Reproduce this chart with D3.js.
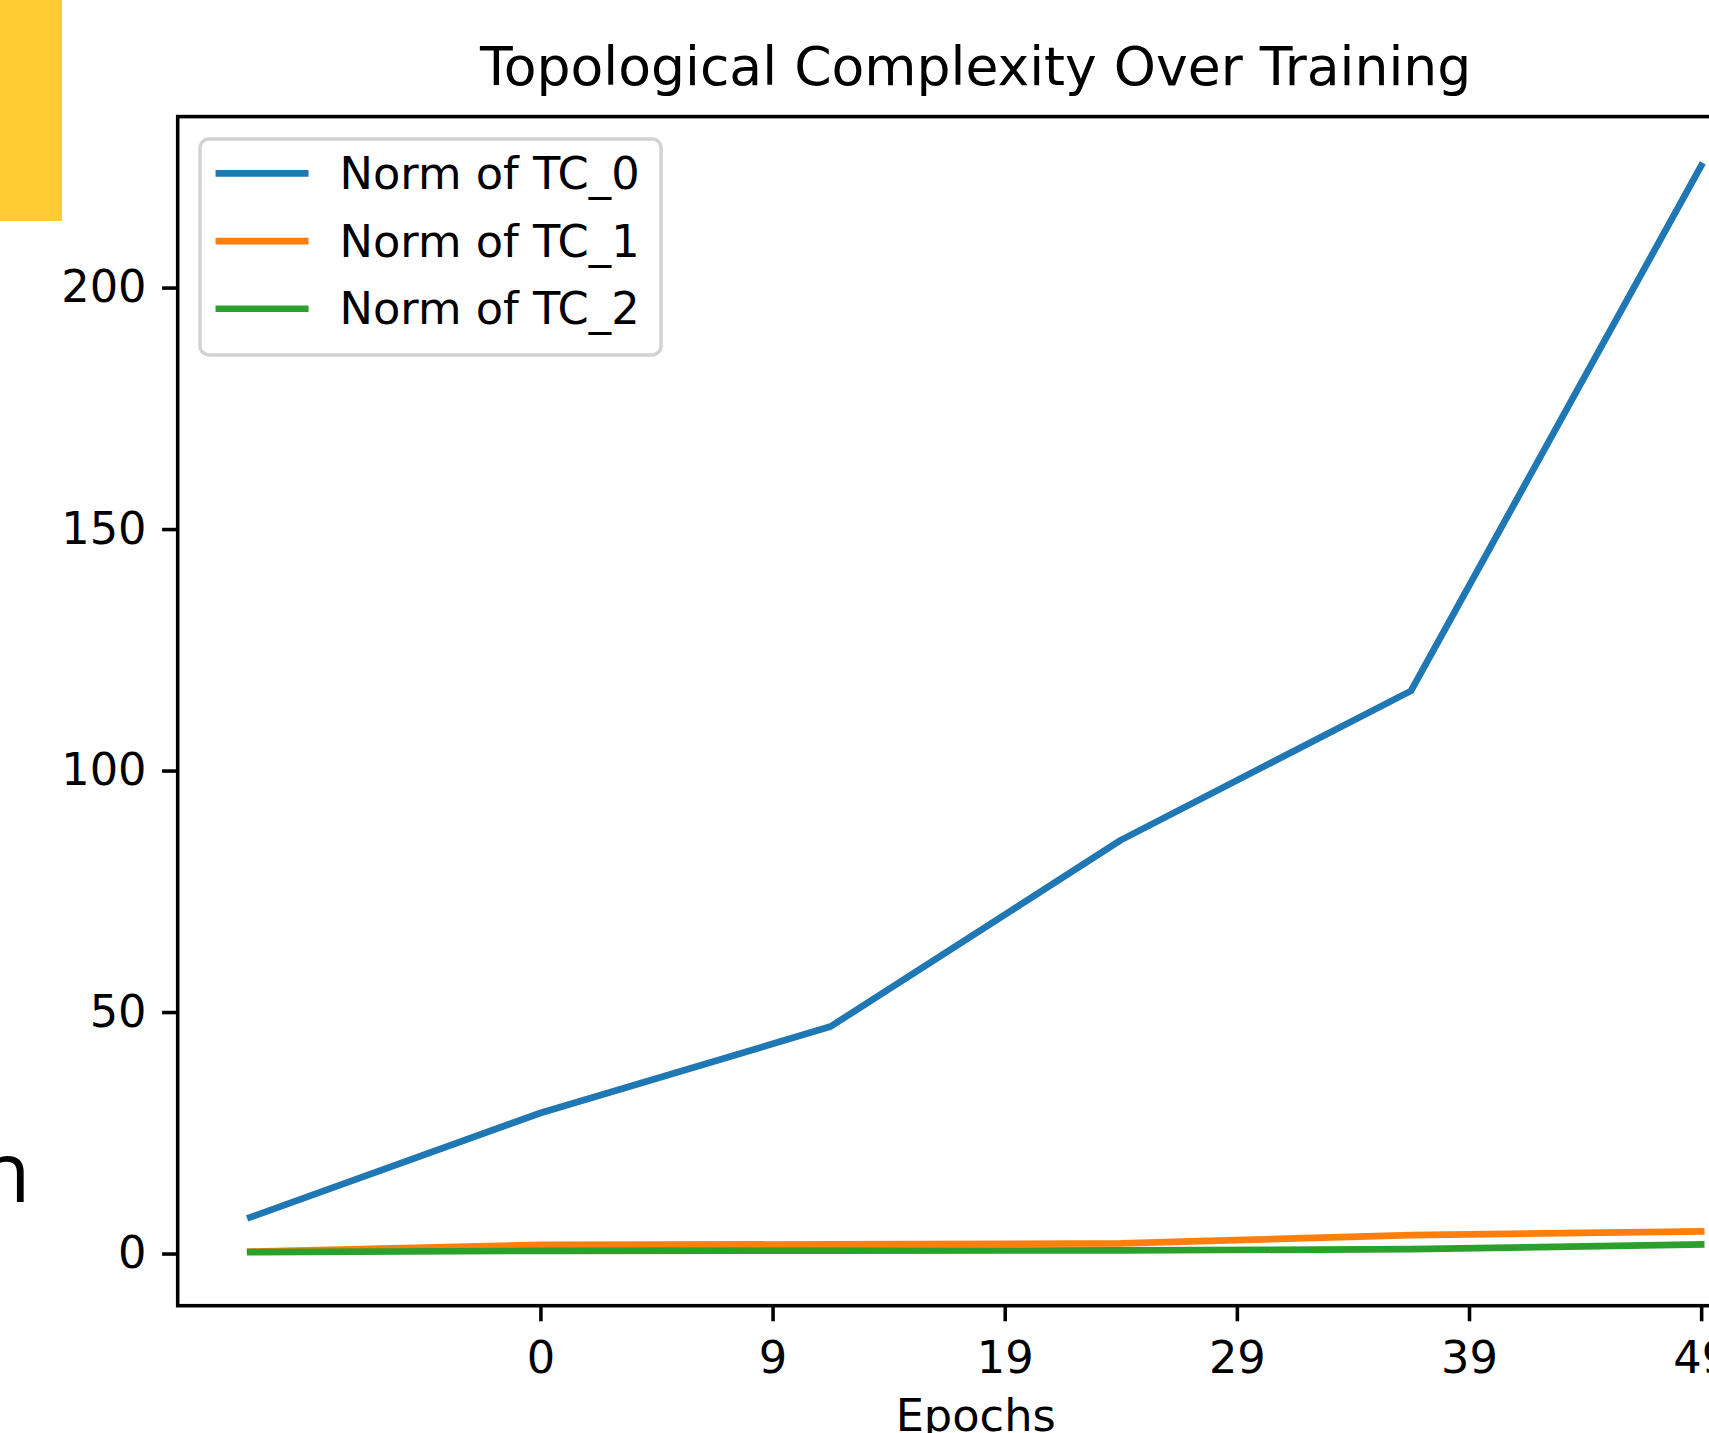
<!DOCTYPE html>
<html>
<head>
<meta charset="utf-8">
<script src="https://cdn.jsdelivr.net/npm/d3@7"></script>
<style>
  html, body { margin: 0; padding: 0; background: #fff; overflow: hidden; }
  svg { display: block; }
</style>
</head>
<body>
<svg width="1709" height="1433"></svg>
<script>
const epochIndex = [0, 1, 2, 3, 4, 5];
const tc0 = [7.5, 29.1, 47.0, 85.6, 116.5, 225.2];
const tc1 = [0.4, 1.8, 1.9, 2.1, 3.8, 4.6];
const tc2 = [0.3, 0.55, 0.6, 0.65, 0.9, 1.9];
const seriesNames = ["Norm of TC_0", "Norm of TC_1", "Norm of TC_2"];
const xTickPos = [1, 1.8, 2.6, 3.4, 4.2, 5];
const xTickLabels = ["0", "9", "19", "29", "39", "49"];
const yTicks = [0, 50, 100, 150, 200];

const colors = ["#1f77b4", "#ff7f0e", "#2ca02c"];
const font = "'DejaVu Sans', sans-serif";
const fs = 44.7;

var svg = d3.select("svg");

// bits of the page behind the figure
svg.append("rect")
  .attr("x", 0).attr("y", 0)
  .attr("width", 62).attr("height", 221)
  .attr("fill", "#ffcc33");

svg.append("text")
  .attr("x", -21)
  .attr("y", 1202)
  .attr("font-family", "'Open Sans', sans-serif")
  .attr("font-size", 84)
  .attr("fill", "#000")
  .text("n");

var margin = {top: 116.6, left: 177.7},
  width = 1596,
  height = 1189.1,
  g = svg.append("g").attr("transform", "translate(" + margin.left + "," + margin.top + ")");

var x = d3.scaleLinear()
  .domain([-0.25, 5.25])
  .range([0, width]);

var y = d3.scaleLinear()
  .domain([-10.8, 235.4])
  .range([height, 0]);

var data = epochIndex.map(function(d, i) {
  return {x: d, v: [tc0[i], tc1[i], tc2[i]]};
});

// title
g.append("text")
  .attr("x", width / 2)
  .attr("y", -31.5)
  .attr("text-anchor", "middle")
  .attr("font-family", font)
  .attr("font-size", 53.6)
  .attr("fill", "#000")
  .text("Topological Complexity Over Training");

// lines
seriesNames.forEach(function(name, k) {
  var line = d3.line()
    .x(function(d) { return x(d.x); })
    .y(function(d) { return y(d.v[k]); });

  g.append("path")
    .datum(data)
    .attr("fill", "none")
    .attr("stroke", colors[k])
    .attr("stroke-linejoin", "round")
    .attr("stroke-linecap", "square")
    .attr("stroke-width", 6.7)
    .attr("d", line);
});

// axes
var xAxis = g.append("g")
  .attr("transform", "translate(0," + height + ")")
  .call(d3.axisBottom(x)
    .tickValues(xTickPos)
    .tickFormat(function(d, i) { return xTickLabels[i]; })
    .tickSize(15.6)
    .tickPadding(19.5));

var yAxis = g.append("g")
  .call(d3.axisLeft(y)
    .tickValues(yTicks)
    .tickSize(15.6)
    .tickPadding(15.6));

[xAxis, yAxis].forEach(function(a) {
  a.select(".domain").remove();
  a.selectAll(".tick line").attr("stroke", "#000").attr("stroke-width", 3.57);
  a.selectAll(".tick text")
    .attr("font-family", font)
    .attr("font-size", fs)
    .attr("fill", "#000");
});

g.append("text")
  .attr("x", width / 2)
  .attr("y", 1430.6 - margin.top)
  .attr("text-anchor", "middle")
  .attr("font-family", font)
  .attr("font-size", fs)
  .attr("fill", "#000")
  .text("Epochs");

// spines
g.append("rect")
  .attr("x", 0).attr("y", 0)
  .attr("width", width).attr("height", height)
  .attr("fill", "none")
  .attr("stroke", "#000")
  .attr("stroke-width", 3.57);

// legend
var pad = 22.35;
var legend = g.append("g").attr("transform", "translate(" + pad + "," + pad + ")");

legend.append("rect")
  .attr("x", 0).attr("y", 0)
  .attr("width", 461).attr("height", 216)
  .attr("rx", 9).attr("ry", 9)
  .attr("fill", "#fff")
  .attr("fill-opacity", 0.8)
  .attr("stroke", "#d2d2d2")
  .attr("stroke-width", 3.4);

var rows = legend.selectAll("g.row")
  .data(seriesNames)
  .enter().append("g")
  .attr("class", "row")
  .attr("transform", function(d, i) { return "translate(0," + (34.4 + i * 67.7) + ")"; });

rows.append("line")
  .attr("x1", 15.5).attr("x2", 108.5)
  .attr("stroke", function(d, i) { return colors[i]; })
  .attr("stroke-width", 6.7);

rows.append("text")
  .attr("x", 139.5)
  .attr("dy", "0.35em")
  .attr("font-family", font)
  .attr("font-size", fs)
  .attr("fill", "#000")
  .text(function(d) { return d; });
</script>
</body>
</html>
